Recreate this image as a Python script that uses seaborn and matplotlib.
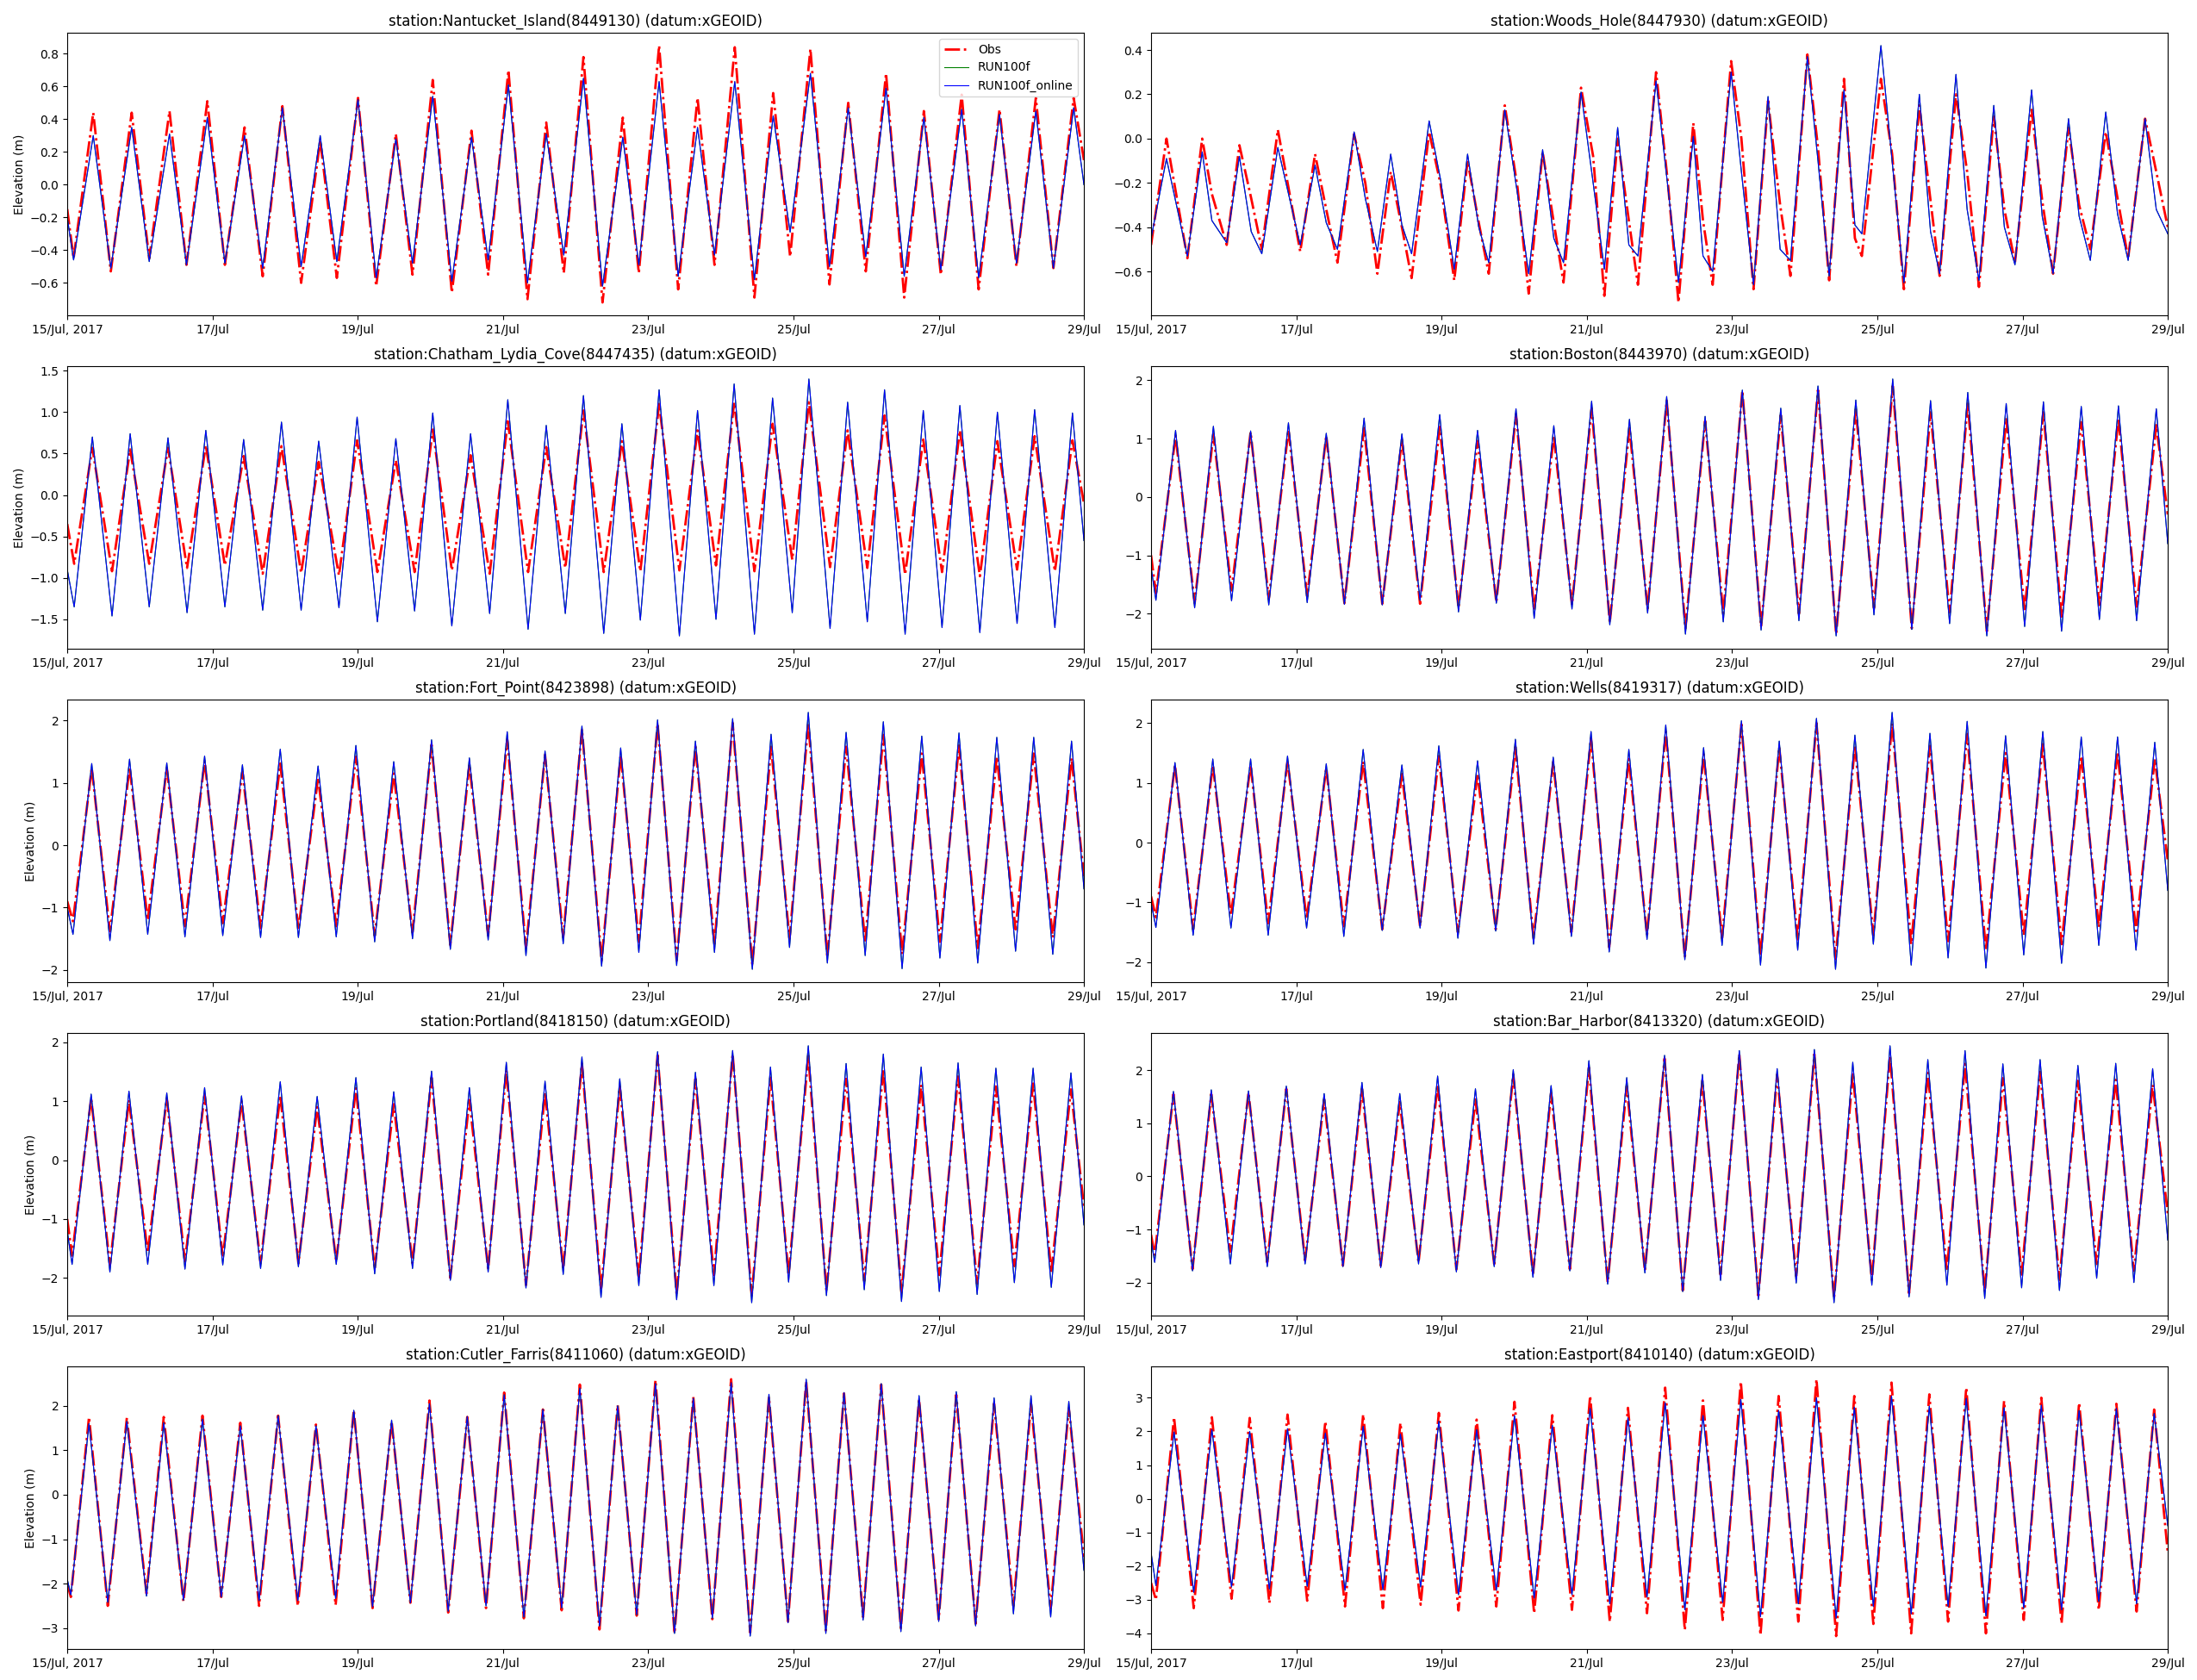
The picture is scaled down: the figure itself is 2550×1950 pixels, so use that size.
import numpy as np
import pandas as pd
import matplotlib
matplotlib.use('Agg')
import matplotlib.pyplot as plt
import seaborn as sns

#%%
# time axis: hours after 15/Jul/2017 00:00, read off at each low / high water
start = pd.Timestamp('2017-07-15')
t_first, t_last = 0.0, 336.0
tick_labels = ['15/Jul, 2017', '17/Jul', '19/Jul', '21/Jul', '23/Jul', '25/Jul', '27/Jul', '29/Jul']
series_names = ['Obs', 'RUN100f', 'RUN100f_online']

titles = ['station:Nantucket_Island(8449130) (datum:xGEOID)',
          'station:Woods_Hole(8447930) (datum:xGEOID)',
          'station:Chatham_Lydia_Cove(8447435) (datum:xGEOID)',
          'station:Boston(8443970) (datum:xGEOID)',
          'station:Fort_Point(8423898) (datum:xGEOID)',
          'station:Wells(8419317) (datum:xGEOID)',
          'station:Portland(8418150) (datum:xGEOID)',
          'station:Bar_Harbor(8413320) (datum:xGEOID)',
          'station:Cutler_Farris(8411060) (datum:xGEOID)',
          'station:Eastport(8410140) (datum:xGEOID)']

#%%
# Nantucket
nan_t_lo = [2.1, 14.4, 27.1, 39.4, 52.1, 64.6, 77.3, 89.1, 102.1, 114.1, 127.1, 139.1, 152.1, 164.1,
            176.9, 188.9, 201.9, 213.9, 227.1, 238.9, 251.9, 263.9, 276.6, 288.7, 301.2, 313.7, 325.9]
nan_t_hi = [8.6, 21.3, 33.8, 46.3, 58.6, 71.1, 83.6, 96.1, 108.6, 120.8, 133.6, 145.8, 158.3, 170.6,
            183.6, 195.6, 208.3, 220.6, 233.3, 245.6, 258.1, 270.6, 283.1, 295.6, 308.1, 320.1, 332.6]
nan_obs_lo = [-0.45, -0.53, -0.45, -0.49, -0.49, -0.56, -0.60, -0.57, -0.62, -0.55, -0.66, -0.55, -0.70, -0.54,
              -0.72, -0.54, -0.64, -0.49, -0.69, -0.44, -0.61, -0.53, -0.69, -0.55, -0.64, -0.50, -0.51]
nan_obs_hi = [0.44, 0.44, 0.45, 0.51, 0.35, 0.48, 0.27, 0.53, 0.31, 0.64, 0.33, 0.70, 0.38, 0.78,
              0.41, 0.85, 0.53, 0.84, 0.56, 0.83, 0.50, 0.68, 0.45, 0.55, 0.46, 0.53, 0.53]
nan_mod_lo = [-0.46, -0.51, -0.47, -0.49, -0.48, -0.51, -0.50, -0.47, -0.57, -0.48, -0.59, -0.46, -0.60, -0.43,
              -0.62, -0.49, -0.56, -0.43, -0.58, -0.29, -0.50, -0.44, -0.56, -0.52, -0.57, -0.48, -0.51]
nan_mod_hi = [0.30, 0.35, 0.31, 0.41, 0.30, 0.47, 0.30, 0.52, 0.28, 0.54, 0.29, 0.61, 0.31, 0.65,
              0.29, 0.63, 0.35, 0.63, 0.42, 0.68, 0.47, 0.59, 0.41, 0.46, 0.43, 0.45, 0.47]
nan_obs_ends = [-0.15, 0.15]
nan_mod_ends = [-0.20, 0.00]

# Woods Hole (peaks, shoulders and lows in order)
woo_t = [0.0, 5.1, 12.0, 16.9, 20.1, 25.0, 29.2, 33.1, 36.6, 41.9, 49.3, 54.2, 57.9, 61.6, 67.1, 70.8,
         74.8, 79.2, 82.9, 86.1, 91.9, 95.6, 100.2, 104.6, 108.3, 111.6, 116.9, 121.1, 124.8, 129.4,
         133.1, 136.3, 142.1, 146.1, 149.8, 154.2, 157.9, 160.9, 166.9, 170.8, 174.3, 179.2, 182.4,
         185.6, 191.7, 195.1, 199.1, 203.9, 207.9, 211.3, 216.9, 220.4, 224.1, 229.0, 232.6, 234.9,
         241.2, 244.9, 248.8, 253.9, 257.6, 260.6, 266.0, 269.7, 273.6, 278.5, 282.0, 285.5, 291.0,
         294.5, 298.1, 303.2, 306.7, 310.4, 315.5, 319.4, 322.9, 328.5, 332.2, 336.0]
woo_mod = [-0.45, -0.09, -0.53, -0.06, -0.37, -0.47, -0.08, -0.42, -0.52, -0.04, -0.48, -0.12, -0.38,
           -0.50, 0.03, -0.27, -0.51, -0.07, -0.39, -0.52, 0.08, -0.18, -0.59, -0.07, -0.40, -0.56,
           0.13, -0.25, -0.61, -0.05, -0.45, -0.56, 0.21, -0.20, -0.59, 0.05, -0.48, -0.53, 0.26,
           -0.22, -0.65, 0.01, -0.53, -0.60, 0.30, -0.15, -0.66, 0.19, -0.50, -0.55, 0.37, -0.10,
           -0.62, 0.22, -0.39, -0.43, 0.42, -0.10, -0.65, 0.20, -0.42, -0.61, 0.29, -0.32, -0.64,
           0.15, -0.40, -0.57, 0.22, -0.35, -0.61, 0.09, -0.35, -0.55, 0.12, -0.34, -0.55, 0.09,
           -0.32, -0.43]
woo_obs = [-0.48, 0.00, -0.54, 0.00, -0.25, -0.48, -0.03, -0.27, -0.50, 0.04, -0.51, -0.07, -0.32,
           -0.56, 0.02, -0.20, -0.61, -0.15, -0.40, -0.63, 0.03, -0.20, -0.64, -0.10, -0.38, -0.61,
           0.15, -0.22, -0.70, -0.06, -0.38, -0.65, 0.23, -0.08, -0.71, 0.00, -0.37, -0.66, 0.30,
           -0.20, -0.74, 0.07, -0.37, -0.66, 0.35, 0.00, -0.68, 0.17, -0.30, -0.62, 0.38, -0.04,
           -0.64, 0.27, -0.45, -0.53, 0.27, -0.07, -0.68, 0.15, -0.28, -0.62, 0.20, -0.15, -0.67,
           0.10, -0.32, -0.56, 0.13, -0.28, -0.61, 0.05, -0.30, -0.50, 0.03, -0.27, -0.54, 0.09,
           -0.15, -0.40]

# Chatham Lydia Cove
cha_t_lo = [2.3, 14.8, 27.1, 39.6, 52.1, 64.6, 77.3, 89.8, 102.5, 114.8, 127.1, 139.6, 152.3, 164.6,
            177.3, 189.4, 202.3, 214.4, 227.1, 239.6, 252.1, 264.4, 276.9, 289.1, 301.6, 313.9, 326.4]
cha_t_hi = [8.3, 20.8, 33.3, 45.8, 58.3, 70.8, 83.1, 95.8, 108.6, 120.8, 133.3, 145.6, 158.3, 170.6,
            183.3, 195.6, 208.3, 220.4, 233.1, 245.1, 257.9, 270.1, 282.9, 295.0, 307.4, 319.7, 332.2]
cha_obs_lo = [-0.83, -0.92, -0.83, -0.88, -0.85, -0.95, -0.94, -0.97, -0.93, -0.93, -0.91, -0.95, -0.93, -0.88,
              -0.93, -0.92, -0.91, -0.85, -0.92, -0.78, -0.87, -0.88, -0.96, -0.93, -0.98, -0.90, -0.92]
cha_obs_hi = [0.57, 0.55, 0.57, 0.60, 0.47, 0.59, 0.40, 0.66, 0.42, 0.79, 0.48, 0.89, 0.58, 1.02,
              0.65, 1.10, 0.78, 1.12, 0.86, 1.12, 0.78, 0.96, 0.67, 0.78, 0.65, 0.71, 0.66]
cha_mod_lo = [-1.35, -1.46, -1.35, -1.42, -1.35, -1.39, -1.39, -1.36, -1.53, -1.40, -1.58, -1.43, -1.62, -1.43,
              -1.67, -1.51, -1.70, -1.50, -1.68, -1.42, -1.61, -1.53, -1.68, -1.60, -1.66, -1.55, -1.60]
cha_mod_hi = [0.70, 0.74, 0.69, 0.78, 0.67, 0.88, 0.65, 0.94, 0.68, 0.99, 0.74, 1.15, 0.84, 1.20,
              0.86, 1.27, 1.02, 1.34, 1.17, 1.40, 1.12, 1.27, 1.02, 1.08, 1.00, 1.03, 0.99]
cha_obs_ends = [-0.35, -0.10]
cha_mod_ends = [-0.90, -0.55]

# Boston
bos_t_lo = [1.6, 14.4, 26.6, 38.9, 51.6, 63.9, 76.4, 88.9, 101.6, 114.1, 126.6, 139.1, 151.6, 164.1,
            176.6, 189.1, 201.6, 214.1, 226.4, 238.9, 251.4, 263.9, 276.2, 288.7, 300.9, 313.4, 325.7]
bos_t_hi = [8.1, 20.6, 32.9, 45.4, 57.9, 70.4, 82.9, 95.4, 107.9, 120.6, 133.1, 145.6, 158.1, 170.4,
            183.1, 195.4, 208.1, 220.4, 232.9, 245.1, 257.6, 269.9, 282.6, 294.9, 307.4, 319.7, 332.2]
bos_obs_lo = [-1.65, -1.82, -1.60, -1.75, -1.70, -1.82, -1.83, -1.83, -1.90, -1.80, -1.95, -1.85, -2.15, -1.92,
              -2.25, -2.00, -2.22, -2.00, -2.35, -1.90, -2.25, -1.98, -2.30, -1.95, -2.05, -1.85, -1.88]
bos_obs_hi = [1.05, 1.08, 1.11, 1.15, 1.05, 1.18, 0.98, 1.20, 0.96, 1.42, 1.05, 1.52, 1.18, 1.65,
              1.30, 1.82, 1.40, 1.83, 1.50, 1.90, 1.45, 1.60, 1.35, 1.45, 1.28, 1.35, 1.23]
bos_mod_lo = [-1.77, -1.90, -1.78, -1.85, -1.81, -1.84, -1.85, -1.77, -1.97, -1.82, -2.08, -1.92, -2.19, -1.99,
              -2.35, -2.14, -2.28, -2.12, -2.38, -2.02, -2.27, -2.17, -2.38, -2.22, -2.30, -2.10, -2.12]
bos_mod_hi = [1.14, 1.21, 1.13, 1.27, 1.09, 1.35, 1.08, 1.41, 1.14, 1.51, 1.22, 1.64, 1.33, 1.72,
              1.38, 1.83, 1.52, 1.90, 1.66, 2.02, 1.65, 1.79, 1.60, 1.63, 1.55, 1.56, 1.51]
bos_obs_ends = [-1.00, -0.30]
bos_mod_ends = [-1.20, -0.80]

# Fort Point
fpt_t_lo = [1.9, 14.1, 26.6, 38.9, 51.4, 63.9, 76.4, 88.9, 101.6, 114.1, 126.6, 139.1, 151.6, 163.9,
            176.6, 188.9, 201.4, 213.9, 226.4, 238.7, 251.2, 263.7, 275.9, 288.4, 300.9, 313.4, 325.7]
fpt_t_hi = [8.1, 20.6, 32.9, 45.4, 57.9, 70.4, 82.9, 95.4, 107.9, 120.4, 132.9, 145.4, 157.9, 170.1,
            182.9, 195.1, 207.6, 219.9, 232.6, 244.9, 257.4, 269.7, 282.4, 294.7, 307.2, 319.4, 331.9]
fpt_obs_lo = [-1.22, -1.38, -1.20, -1.30, -1.25, -1.33, -1.35, -1.30, -1.45, -1.40, -1.60, -1.45, -1.65, -1.48,
              -1.85, -1.55, -1.85, -1.58, -1.92, -1.50, -1.80, -1.55, -1.75, -1.55, -1.65, -1.35, -1.48]
fpt_obs_hi = [1.24, 1.25, 1.24, 1.35, 1.18, 1.31, 1.08, 1.42, 1.15, 1.61, 1.30, 1.70, 1.45, 1.86,
              1.45, 1.95, 1.58, 1.96, 1.58, 1.96, 1.58, 1.77, 1.47, 1.60, 1.42, 1.47, 1.40]
fpt_mod_lo = [-1.43, -1.53, -1.43, -1.47, -1.45, -1.48, -1.48, -1.47, -1.55, -1.50, -1.67, -1.52, -1.77, -1.58,
              -1.94, -1.72, -1.93, -1.72, -1.99, -1.64, -1.89, -1.77, -1.98, -1.81, -1.89, -1.70, -1.75]
fpt_mod_hi = [1.31, 1.38, 1.32, 1.43, 1.29, 1.54, 1.27, 1.60, 1.34, 1.69, 1.40, 1.82, 1.51, 1.91,
              1.56, 2.01, 1.67, 2.03, 1.78, 2.13, 1.81, 1.98, 1.75, 1.80, 1.73, 1.73, 1.67]
fpt_obs_ends = [-0.90, -0.50]
fpt_mod_ends = [-1.00, -0.70]

# Wells
wel_t_lo = [1.6, 13.9, 26.4, 38.7, 51.4, 63.7, 76.4, 88.9, 101.4, 113.9, 126.4, 138.9, 151.4, 163.9,
            176.4, 188.7, 201.4, 213.7, 226.2, 238.7, 251.2, 263.4, 275.9, 288.4, 300.9, 313.2, 325.5]
wel_t_hi = [7.9, 20.4, 32.9, 45.1, 57.9, 70.1, 82.9, 95.1, 107.9, 120.4, 132.9, 145.4, 157.9, 170.1,
            182.6, 195.1, 207.6, 219.9, 232.6, 244.9, 257.4, 269.7, 282.4, 294.7, 307.4, 319.4, 331.7]
wel_obs_lo = [-1.25, -1.45, -1.22, -1.35, -1.28, -1.40, -1.45, -1.40, -1.50, -1.45, -1.60, -1.50, -1.75, -1.55,
              -1.92, -1.60, -1.90, -1.62, -1.95, -1.55, -1.70, -1.65, -1.80, -1.55, -1.70, -1.42, -1.48]
wel_obs_hi = [1.30, 1.30, 1.30, 1.37, 1.25, 1.36, 1.15, 1.45, 1.15, 1.60, 1.35, 1.75, 1.40, 1.86,
              1.48, 1.98, 1.60, 2.00, 1.63, 2.00, 1.62, 1.82, 1.50, 1.65, 1.45, 1.52, 1.40]
wel_mod_lo = [-1.42, -1.55, -1.43, -1.55, -1.43, -1.57, -1.47, -1.43, -1.60, -1.48, -1.70, -1.57, -1.83, -1.62,
              -1.96, -1.72, -2.05, -1.80, -2.12, -1.70, -2.05, -1.93, -2.10, -1.88, -2.02, -1.72, -1.80]
wel_mod_hi = [1.34, 1.40, 1.40, 1.45, 1.32, 1.56, 1.30, 1.62, 1.37, 1.73, 1.43, 1.86, 1.56, 1.97,
              1.59, 2.04, 1.70, 2.08, 1.80, 2.18, 1.83, 2.03, 1.79, 1.86, 1.77, 1.77, 1.68]
wel_obs_ends = [-0.90, -0.30]
wel_mod_ends = [-1.00, -0.80]

# Portland
por_t_lo = [1.6, 14.1, 26.6, 38.9, 51.4, 63.9, 76.4, 88.9, 101.6, 114.1, 126.6, 139.1, 151.6, 163.9,
            176.4, 188.9, 201.4, 213.7, 226.2, 238.4, 250.9, 263.4, 275.7, 288.2, 300.7, 313.0, 325.2]
por_t_hi = [7.9, 20.4, 32.9, 45.4, 57.6, 70.4, 82.6, 95.4, 107.9, 120.4, 132.9, 145.1, 157.9, 170.1,
            182.6, 195.1, 207.6, 219.9, 232.4, 244.9, 257.4, 269.7, 282.2, 294.4, 306.9, 319.2, 331.7]
por_obs_lo = [-1.62, -1.78, -1.57, -1.72, -1.65, -1.75, -1.75, -1.72, -1.85, -1.75, -2.00, -1.85, -2.12, -1.85,
              -2.20, -2.00, -2.28, -1.95, -2.30, -1.95, -2.22, -2.05, -2.25, -1.95, -2.10, -1.80, -1.90]
por_obs_hi = [1.05, 1.02, 1.05, 1.12, 1.00, 1.10, 0.90, 1.22, 0.95, 1.40, 1.02, 1.53, 1.15, 1.64,
              1.25, 1.78, 1.38, 1.80, 1.40, 1.77, 1.38, 1.55, 1.28, 1.42, 1.25, 1.30, 1.20]
por_mod_lo = [-1.77, -1.90, -1.77, -1.85, -1.78, -1.84, -1.81, -1.77, -1.93, -1.84, -2.04, -1.90, -2.17, -1.94,
              -2.33, -2.13, -2.37, -2.13, -2.42, -2.07, -2.30, -2.20, -2.40, -2.23, -2.28, -2.08, -2.16]
por_mod_hi = [1.12, 1.17, 1.14, 1.23, 1.09, 1.33, 1.08, 1.40, 1.16, 1.51, 1.23, 1.66, 1.34, 1.75,
              1.38, 1.84, 1.49, 1.86, 1.58, 1.94, 1.64, 1.80, 1.58, 1.65, 1.56, 1.56, 1.48]
por_obs_ends = [-1.00, -0.80]
por_mod_ends = [-1.20, -1.10]

# Bar Harbor
bar_t_lo = [1.2, 13.7, 26.2, 38.4, 50.9, 63.4, 75.9, 88.4, 100.9, 113.4, 126.2, 138.4, 150.9, 163.2,
            175.7, 188.2, 200.7, 213.2, 225.7, 238.2, 250.5, 263.0, 275.5, 287.7, 300.2, 312.5, 324.8]
bar_t_hi = [7.4, 19.9, 32.2, 44.7, 57.2, 69.7, 82.2, 94.7, 107.2, 119.7, 132.2, 144.7, 157.2, 169.7,
            182.2, 194.4, 206.9, 219.2, 231.9, 244.2, 256.7, 269.0, 281.5, 293.8, 306.3, 318.8, 331.0]
bar_obs_lo = [-1.48, -1.75, -1.42, -1.62, -1.58, -1.68, -1.68, -1.62, -1.75, -1.65, -1.85, -1.75, -2.00, -1.78,
              -2.15, -1.85, -2.25, -1.88, -2.30, -1.95, -2.20, -1.78, -2.18, -1.85, -1.95, -1.65, -1.78]
bar_obs_hi = [1.55, 1.55, 1.58, 1.65, 1.45, 1.65, 1.40, 1.73, 1.45, 1.92, 1.57, 2.05, 1.70, 2.22,
              1.80, 2.30, 1.92, 2.30, 1.95, 2.28, 1.95, 2.12, 1.85, 1.97, 1.80, 1.82, 1.73]
bar_mod_lo = [-1.62, -1.78, -1.65, -1.70, -1.65, -1.70, -1.72, -1.65, -1.80, -1.70, -1.90, -1.78, -2.03, -1.82,
              -2.17, -1.96, -2.32, -2.01, -2.38, -2.05, -2.27, -2.05, -2.30, -2.10, -2.15, -1.92, -2.00]
bar_mod_hi = [1.60, 1.63, 1.61, 1.70, 1.56, 1.77, 1.56, 1.89, 1.65, 2.01, 1.71, 2.18, 1.86, 2.28,
              1.92, 2.37, 2.03, 2.39, 2.15, 2.46, 2.20, 2.37, 2.12, 2.20, 2.09, 2.13, 2.03]
bar_obs_ends = [-1.10, -0.70]
bar_mod_ends = [-1.20, -1.20]

# Cutler Farris
cut_t_lo = [1.2, 13.4, 26.2, 38.4, 50.9, 63.4, 76.2, 88.7, 100.9, 113.4, 125.9, 138.4, 150.9, 163.4,
            175.9, 188.2, 200.7, 213.2, 225.7, 238.2, 250.7, 263.0, 275.5, 288.0, 300.2, 312.7, 325.0]
cut_t_hi = [7.2, 19.7, 31.9, 44.7, 57.2, 69.7, 82.2, 94.7, 107.2, 119.7, 132.2, 144.4, 157.2, 169.4,
            181.9, 194.4, 206.9, 219.4, 231.9, 244.2, 256.7, 269.0, 281.5, 293.8, 306.3, 318.5, 331.0]
cut_obs_lo = [-2.30, -2.50, -2.22, -2.40, -2.30, -2.50, -2.50, -2.48, -2.55, -2.43, -2.65, -2.55, -2.78, -2.60,
              -3.03, -2.72, -3.12, -2.80, -3.10, -2.85, -3.05, -2.75, -3.00, -2.80, -2.90, -2.50, -2.55]
cut_obs_hi = [1.75, 1.73, 1.75, 1.78, 1.62, 1.78, 1.58, 1.90, 1.65, 2.12, 1.75, 2.30, 1.92, 2.48,
              2.02, 2.58, 2.20, 2.60, 2.20, 2.55, 2.28, 2.48, 2.15, 2.25, 2.05, 2.05, 1.95]
cut_mod_lo = [-2.25, -2.42, -2.28, -2.37, -2.30, -2.38, -2.38, -2.33, -2.52, -2.43, -2.62, -2.50, -2.75, -2.55,
              -2.95, -2.70, -3.12, -2.78, -3.18, -2.88, -3.12, -2.82, -3.08, -2.85, -2.95, -2.68, -2.75]
cut_mod_hi = [1.60, 1.65, 1.62, 1.70, 1.55, 1.78, 1.55, 1.90, 1.68, 2.05, 1.76, 2.25, 1.92, 2.40,
              2.00, 2.50, 2.17, 2.52, 2.26, 2.60, 2.30, 2.50, 2.23, 2.32, 2.18, 2.23, 2.10]
cut_obs_ends = [-2.00, -1.40]
cut_mod_ends = [-1.90, -1.70]

# Eastport
eas_t_lo = [1.6, 14.1, 26.6, 39.1, 51.6, 64.1, 76.6, 89.1, 101.6, 114.1, 126.6, 139.1, 151.6, 163.9,
            176.4, 188.9, 201.4, 213.9, 226.4, 238.7, 251.2, 263.4, 275.9, 288.4, 300.9, 313.2, 325.7]
eas_t_hi = [7.6, 20.1, 32.6, 45.1, 57.6, 70.1, 82.4, 95.1, 107.6, 120.1, 132.6, 145.1, 157.6, 169.9,
            182.4, 194.9, 207.4, 219.9, 232.4, 244.7, 257.2, 269.4, 281.9, 294.2, 306.7, 319.0, 331.5]
eas_obs_lo = [-3.00, -3.25, -2.97, -3.10, -3.03, -3.20, -3.25, -3.15, -3.32, -3.20, -3.40, -3.30, -3.65, -3.40,
              -3.90, -3.60, -4.05, -3.65, -4.08, -3.72, -4.00, -3.65, -4.00, -3.60, -3.70, -3.30, -3.35]
eas_obs_hi = [2.42, 2.42, 2.40, 2.50, 2.30, 2.50, 2.25, 2.55, 2.35, 2.88, 2.48, 3.05, 2.70, 3.30,
              2.92, 3.48, 3.05, 3.55, 3.05, 3.45, 3.10, 3.30, 2.90, 3.00, 2.85, 2.82, 2.65]
eas_mod_lo = [-2.58, -2.78, -2.62, -2.68, -2.60, -2.72, -2.70, -2.62, -2.85, -2.72, -2.95, -2.85, -3.12, -2.92,
              -3.30, -3.08, -3.50, -3.12, -3.55, -3.20, -3.42, -3.20, -3.48, -3.25, -3.30, -3.05, -3.12]
eas_mod_hi = [1.98, 2.05, 2.00, 2.08, 1.95, 2.15, 1.92, 2.30, 2.05, 2.47, 2.18, 2.68, 2.40, 2.85,
              2.47, 2.95, 2.62, 3.00, 2.72, 3.05, 2.75, 2.98, 2.70, 2.78, 2.62, 2.68, 2.53]
eas_obs_ends = [-2.50, -1.60]
eas_mod_ends = [-1.60, -0.80]


#%%
def zigzag(ends, lows, highs):
    # start value, then low/high water pairs, then end value
    out = [ends[0]]
    for lo, hi in zip(lows, highs):
        out += [lo, hi]
    out.append(ends[1])
    return out


def station(t_lo, t_hi, obs_lo, obs_hi, mod_lo, mod_hi, obs_ends, mod_ends):
    return (zigzag([t_first, t_last], t_lo, t_hi),
            zigzag(obs_ends, obs_lo, obs_hi),
            zigzag(mod_ends, mod_lo, mod_hi))


panels = [
    station(nan_t_lo, nan_t_hi, nan_obs_lo, nan_obs_hi, nan_mod_lo, nan_mod_hi, nan_obs_ends, nan_mod_ends),
    (woo_t, woo_obs, woo_mod),
    station(cha_t_lo, cha_t_hi, cha_obs_lo, cha_obs_hi, cha_mod_lo, cha_mod_hi, cha_obs_ends, cha_mod_ends),
    station(bos_t_lo, bos_t_hi, bos_obs_lo, bos_obs_hi, bos_mod_lo, bos_mod_hi, bos_obs_ends, bos_mod_ends),
    station(fpt_t_lo, fpt_t_hi, fpt_obs_lo, fpt_obs_hi, fpt_mod_lo, fpt_mod_hi, fpt_obs_ends, fpt_mod_ends),
    station(wel_t_lo, wel_t_hi, wel_obs_lo, wel_obs_hi, wel_mod_lo, wel_mod_hi, wel_obs_ends, wel_mod_ends),
    station(por_t_lo, por_t_hi, por_obs_lo, por_obs_hi, por_mod_lo, por_mod_hi, por_obs_ends, por_mod_ends),
    station(bar_t_lo, bar_t_hi, bar_obs_lo, bar_obs_hi, bar_mod_lo, bar_mod_hi, bar_obs_ends, bar_mod_ends),
    station(cut_t_lo, cut_t_hi, cut_obs_lo, cut_obs_hi, cut_mod_lo, cut_mod_hi, cut_obs_ends, cut_mod_ends),
    station(eas_t_lo, eas_t_hi, eas_obs_lo, eas_obs_hi, eas_mod_lo, eas_mod_hi, eas_obs_ends, eas_mod_ends),
]

#%%
fig, axes = plt.subplots(5, 2, figsize=(25.5, 19.5), dpi=100)
fig.subplots_adjust(left=0.0306, right=0.9867, top=0.9805, bottom=0.0185, wspace=0.066, hspace=0.18)

tick_pos = pd.date_range(start, periods=len(tick_labels), freq='2D')

for i, ax in enumerate(axes.flat):
    t, obs, mod = panels[i]
    x = start + pd.to_timedelta(np.array(t), unit='h')
    sns.lineplot(x=x, y=obs, ax=ax, color='r', linestyle='-.', linewidth=2.0,
                 estimator=None, sort=False, legend=False)
    sns.lineplot(x=x, y=mod, ax=ax, color='g', linewidth=0.8,
                 estimator=None, sort=False, legend=False)
    sns.lineplot(x=x, y=mod, ax=ax, color='b', linewidth=0.8,
                 estimator=None, sort=False, legend=False)
    ax.set_title(titles[i], fontsize=12)
    ax.set_xlim(start, start + pd.Timedelta(hours=t_last))
    ax.set_xticks(tick_pos)
    ax.set_xticklabels(tick_labels)
    ax.set_xlabel('')
    if i % 2 == 0:
        ax.set_ylabel('Elevation (m)')
    else:
        ax.set_ylabel('')
    if i == 0:
        ax.legend(handles=ax.get_lines()[:3], labels=series_names, loc='upper right')

plt.savefig('out.png', dpi=100)
